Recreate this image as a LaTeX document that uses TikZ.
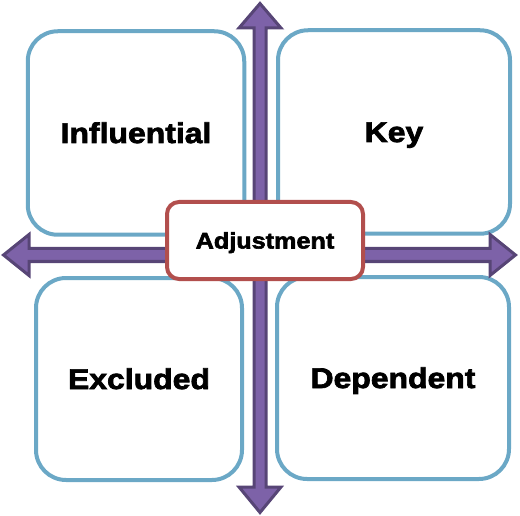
\documentclass[tikz,border=0pt]{standalone}
\usepackage{fontspec}
\newfontfamily\quadfont[FakeStretch=1.12,FakeBold=2.5]{Liberation Sans}
\definecolor{quadblue}{HTML}{6BA8C6}
\definecolor{adjred}{HTML}{B24F4D}
\definecolor{axisfill}{HTML}{7D62A8}
\definecolor{axisline}{HTML}{574576}

\begin{document}
\begin{tikzpicture}[x=1pt, y=-1pt,
  quad/.style={draw=quadblue, line width=4pt, rounded corners=30pt, fill=white,
    font=\quadfont\bfseries\fontsize{28.5}{30}\selectfont, text height=20pt, text depth=0pt},
  axis/.style={draw=axisline, fill=axisfill, line width=3pt, line join=miter},
  adj/.style={draw=adjred, line width=4pt, rounded corners=12pt, fill=white,
    font=\quadfont\bfseries\fontsize{22.5}{24}\selectfont, text height=16pt, text depth=0pt}]
  \useasboundingbox (0,0) rectangle (520,516);

  % the four quadrants
  \node[quad, minimum width=216.5pt, minimum height=203.5pt] (influential) at (136,133) {Influential};
  \node[quad, minimum width=232pt, minimum height=203.5pt] (key) at (394,132) {Key};
  \node[quad, minimum width=206pt, minimum height=202pt] (excluded) at (139,379) {Excluded};
  \node[quad, minimum width=232pt, minimum height=202pt] (dependent) at (393,378) {Dependent};

  % axes
  \draw[axis] (260,3.5) -- (281,28) -- (266,28) -- (266,487) -- (281,487)
    -- (260,512.5) -- (239,487) -- (254,487) -- (254,28) -- (239,28) -- cycle;
  \draw[axis] (3.5,255) -- (29,234.5) -- (29,248.5) -- (490,248.5) -- (490,234.5)
    -- (515.5,255) -- (490,275.5) -- (490,261.5) -- (29,261.5) -- (29,275.5) -- cycle;

  \node[adj, minimum width=196pt, minimum height=77pt] (adjustment) at (265,240.5) {Adjustment};
\end{tikzpicture}
\end{document}
